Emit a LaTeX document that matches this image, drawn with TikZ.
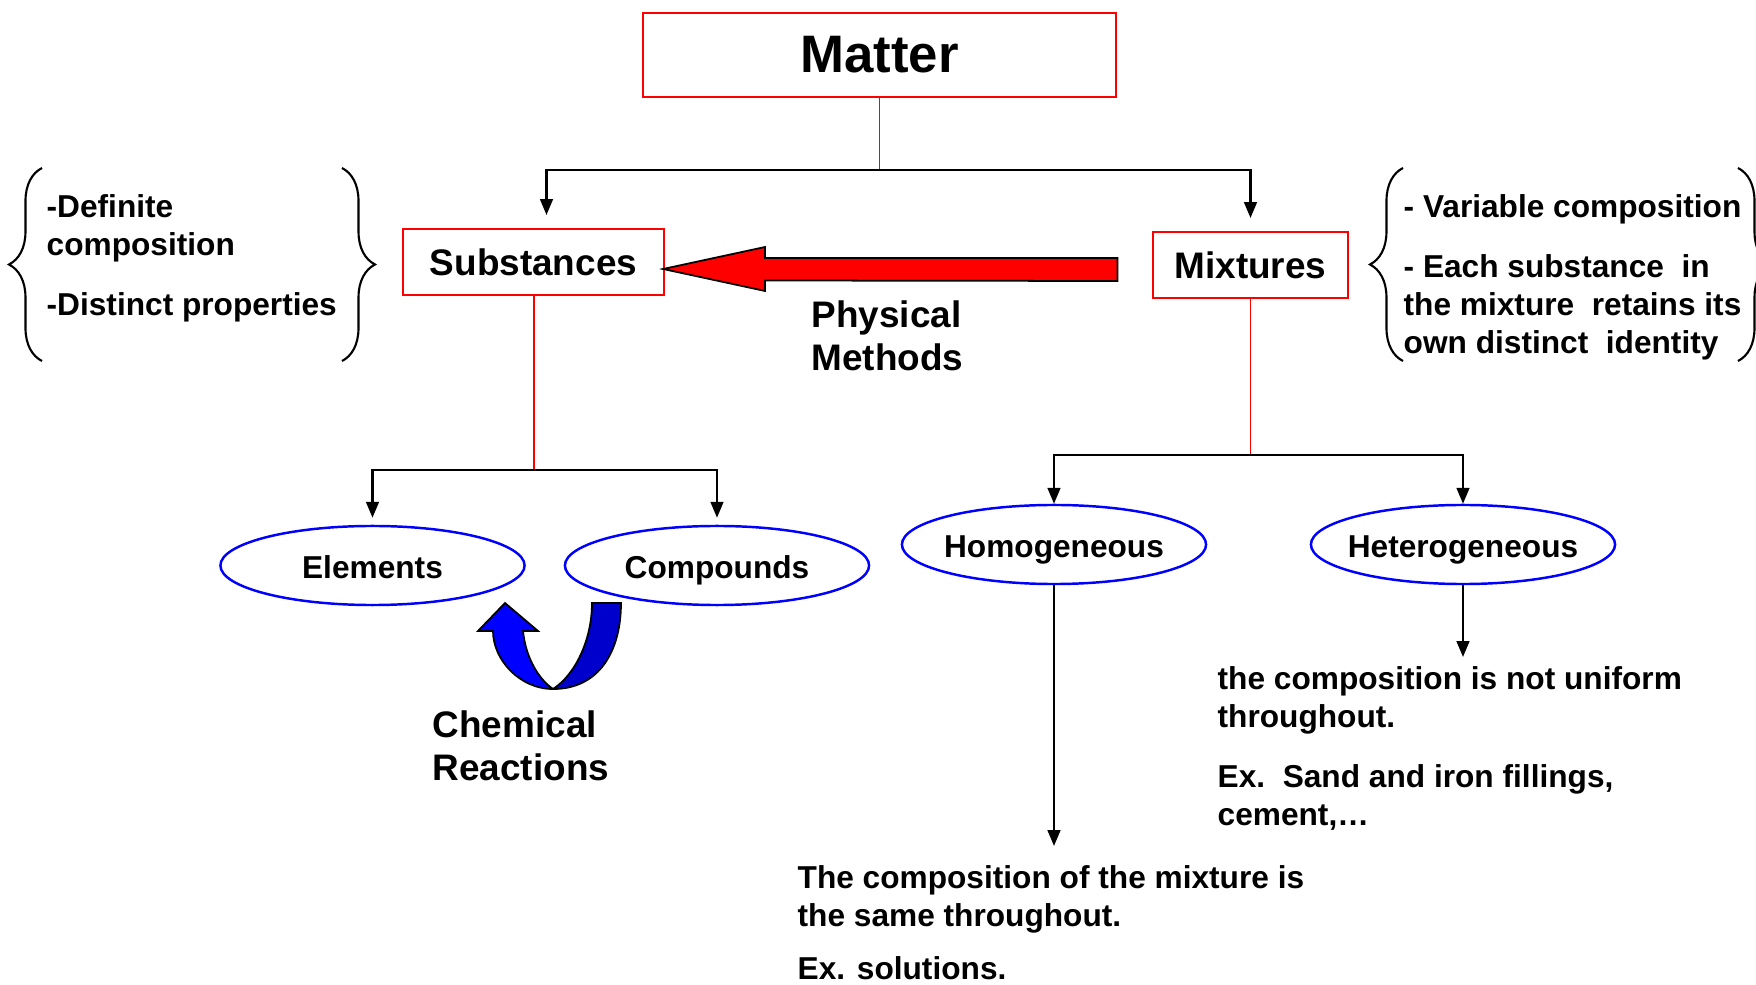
\documentclass[tikz,border=0pt]{standalone}
\usepackage{fontspec}
\setmainfont{Liberation Sans}
\usetikzlibrary{arrows.meta,shapes.geometric,decorations.pathreplacing,calc}

\tikzset{
  redbox/.style={draw=red, line width=0.55pt, minimum height=0.66cm, inner sep=0pt,
    font=\fontsize{10.5}{12}\selectfont\bfseries},
  blueell/.style={ellipse, draw=blue, line width=0.7pt, minimum width=3.04cm,
    minimum height=0.79cm, inner sep=0pt, inner xsep=-12pt, text height=0.72em, text depth=0pt,
    font=\fontsize{9}{10.8}\selectfont\bfseries},
  redline/.style={red, line width=0.45pt},
  conn/.style={black, line width=0.65pt, -{Triangle[length=4.5pt,width=3.6pt]}},
  note/.style={align=left, anchor=north west, inner sep=0pt,
    font=\fontsize{9}{10.8}\selectfont\bfseries},
  biglab/.style={align=left, anchor=north west, inner sep=0pt,
    font=\fontsize{10.5}{12.1}\selectfont\bfseries},
  curly/.style={decorate, decoration={brace, amplitude=0.33cm}, line width=0.6pt}
}

\begin{document}
\begin{tikzpicture}[x=0.01cm,y=-0.01cm]
  \useasboundingbox (0,0) rectangle (1756,985);

  % boxes
  \node[redbox, minimum width=4.73cm, minimum height=0.84cm,
        font=\fontsize{15}{18}\selectfont\bfseries] (matter) at (879.5,55) {Matter};
  \node[redbox, minimum width=2.61cm] (sub) at (533.5,262) {Substances};
  \node[redbox, minimum width=1.94cm] (mix) at (1250.5,265) {Mixtures};

  % ellipses
  \node[blueell] (elem) at (372.5,565.5) {Elements};
  \node[blueell] (comp) at (717,565.5) {Compounds};
  \node[blueell] (homo) at (1054,544.5) {Homogeneous};
  \node[blueell] (hetero) at (1463,544.5) {Heterogeneous};

  % tree lines
  \coordinate (j1) at (879.5,170);
  \coordinate (j2) at (534,470);
  \coordinate (j3) at (1250.5,455);
  \draw[redline] (matter.south) -- (j1);
  \draw[conn, shorten >=0.13cm] (j1) -| ($(sub.north)+(13,0)$);
  \draw[conn, shorten >=0.13cm] (j1) -| (mix.north);
  \draw[redline] (sub.south -| j2) -- (j2);
  \draw[conn, shorten >=0.07cm] (j2) -| (elem.north);
  \draw[conn, shorten >=0.07cm] (j2) -| (comp.north);
  \draw[redline] (mix.south) -- (j3);
  \draw[conn] (j3) -| (homo.north);
  \draw[conn] (j3) -| (hetero.north);

  % side notes
  \node[note] (subnote) at (46,194) {-Definite\\composition\\[6.3pt]-Distinct properties};
  \node[note] (mixnote) at (1403,194) {- Variable composition\\[6.3pt]- Each substance\ \ in\\the mixture\ \ retains its\\own distinct\ \ identity};
  \draw[curly] (42,361) -- (42,168);
  \draw[curly] (342,168) -- (342,361);
  \draw[curly] (1403,361) -- (1403,168);
  \draw[curly] (1738,168) -- (1738,361);

  % descriptions
  \node[note] (homtext) at (797,865) {The composition of the mixture is\\the same throughout.\\[4.3pt]Ex. solutions.};
  \node[note] (hettext) at (1217,666) {the composition is not uniform\\throughout.\\[6.3pt]Ex.\ \ Sand and iron fillings,\\cement,…};
  \draw[conn, shorten >=0.19cm] (homo.south) -- (homo.south |- homtext.north);
  \draw[conn, shorten >=0.09cm] (hetero.south) -- (hetero.south |- hettext.north);

  % physical methods arrow
  \coordinate (pmtip) at ($(sub.east)+(-2,7)$);
  \coordinate (pmtail) at ($(mix.west)+(-35,4.5)$);
  \filldraw[fill=red, draw=black, line width=0.5pt]
    (pmtip) -- ++(102,-22) -- ++(0,11) -- ($(pmtail)+(0,-11.5)$)
    -- ($(pmtail)+(0,11.5)$) -- ($(pmtip)+(102,11.5)$) -- ++(0,10.5) -- cycle;
  \node[biglab] (phys) at (811,300) {Physical\\Methods};

  % chemical reactions arrow
  \filldraw[fill=blue!80!black, draw=black, line width=0.5pt]
    (592,603) -- (621,603) .. controls (621,650) and (600,689) .. (553,689)
    .. controls (575,675) and (592,640) .. cycle;
  \filldraw[fill=blue, draw=black, line width=0.5pt]
    (553,689) .. controls (520,689) and (493,660) .. (493,631)
    -- (478,631) -- (505,603) -- (538,631) -- (523,631)
    .. controls (526,660) and (540,680) .. cycle;
  \node[biglab] (chem) at (432,710) {Chemical\\Reactions};
\end{tikzpicture}
\end{document}
